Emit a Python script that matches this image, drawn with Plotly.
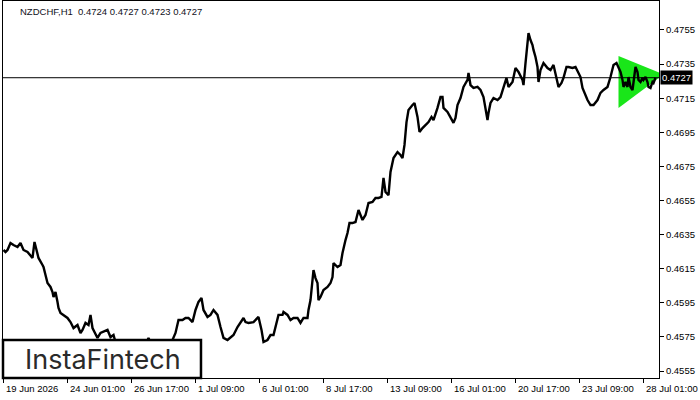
import plotly.graph_objects as go

# ---- data (hourly bar index, close price) ----
bar_idx = [0, 2, 4, 7, 10, 14, 17, 20, 24, 27, 29, 31, 33, 35, 39, 40, 42, 44, 47, 49,
           50, 52, 54, 55, 57, 60, 64, 67, 69, 70, 74, 77, 79, 82, 85, 87, 89, 92, 94, 97,
           100, 104, 107, 110, 112, 117, 122, 127, 132, 137, 142, 145, 149, 153, 157, 162, 167, 169, 172, 175,
           179, 182, 185, 189, 192, 195, 198, 200, 204, 207, 210, 214, 217, 220, 224, 227, 230, 234, 237, 240,
           242, 245, 250, 255, 258, 260, 264, 267, 270, 272, 275, 279, 280, 284, 287, 290, 294, 297, 300, 304,
           305, 307, 309, 310, 312, 314, 315, 317, 320, 324, 327, 329, 330, 334, 337, 339, 342, 344, 346, 349,
           352, 355, 359, 362, 365, 369, 372, 375, 378, 380, 382, 385, 387, 390, 394, 397, 399, 401, 403, 405,
           409, 411, 414, 416, 419, 422, 425, 428, 430, 434, 437, 439, 440, 444, 447, 450, 452, 454, 457, 460,
           464, 465, 467, 470, 474, 477, 480, 482, 484, 485, 487, 490, 494, 497, 500, 503, 505, 509, 512, 515,
           519, 520, 522, 524, 525, 527, 529, 530, 532, 534, 535, 537, 540, 544, 547, 550, 553, 555, 558, 560,
           563, 565, 569, 572, 575, 577, 579, 581, 584, 587, 590, 594, 597, 600, 604, 607, 609, 610, 613, 615,
           617, 619, 620, 622, 624, 625, 627, 629, 630, 632, 634, 635, 637, 639, 640, 642, 644, 645, 647, 649,
           650, 652]
close = [0.46260, 0.46248, 0.46260, 0.46301, 0.46289, 0.46277, 0.46301, 0.46260, 0.46248, 0.46230,
         0.46213, 0.46307, 0.46260, 0.46213, 0.46172, 0.46160, 0.46113, 0.46066, 0.46043, 0.46013,
         0.45984, 0.46013, 0.45955, 0.45920, 0.45890, 0.45879, 0.45861, 0.45837, 0.45808, 0.45802,
         0.45820, 0.45773, 0.45791, 0.45832, 0.45820, 0.45879, 0.45802, 0.45761, 0.45744, 0.45773,
         0.45779, 0.45791, 0.45749, 0.45761, 0.45720, 0.45685, 0.45662, 0.45644, 0.45662, 0.45673,
         0.45703, 0.45744, 0.45685, 0.45662, 0.45644, 0.45673, 0.45714, 0.45732, 0.45773, 0.45849,
         0.45849, 0.45861, 0.45861, 0.45837, 0.45908, 0.45955, 0.45978, 0.45908, 0.45867, 0.45879,
         0.45908, 0.45879, 0.45808, 0.45744, 0.45732, 0.45744, 0.45761, 0.45808, 0.45832, 0.45861,
         0.45837, 0.45832, 0.45837, 0.45867, 0.45791, 0.45720, 0.45732, 0.45761, 0.45761, 0.45808,
         0.45879, 0.45879, 0.45896, 0.45879, 0.45849, 0.45861, 0.45861, 0.45832, 0.45861, 0.45861,
         0.45908, 0.45966, 0.46066, 0.46142, 0.46095, 0.46066, 0.45966, 0.45984, 0.46025, 0.46043,
         0.46066, 0.46101, 0.46183, 0.46160, 0.46172, 0.46242, 0.46318, 0.46359, 0.46418, 0.46418,
         0.46424, 0.46494, 0.46436, 0.46465, 0.46535, 0.46541, 0.46565, 0.46565, 0.46571, 0.46682,
         0.46600, 0.46582, 0.46717, 0.46799, 0.46834, 0.46817, 0.46799, 0.46876, 0.47010, 0.47081,
         0.47110, 0.47122, 0.47040, 0.46952, 0.46975, 0.46993, 0.47010, 0.47040, 0.47022, 0.47093,
         0.47157, 0.47157, 0.47093, 0.47069, 0.47040, 0.47005, 0.47034, 0.47110, 0.47151, 0.47216,
         0.47257, 0.47298, 0.47227, 0.47210, 0.47216, 0.47198, 0.47157, 0.47093, 0.47022, 0.47063,
         0.47122, 0.47151, 0.47139, 0.47157, 0.47216, 0.47269, 0.47216, 0.47245, 0.47327, 0.47304,
         0.47257, 0.47227, 0.47356, 0.47491, 0.47532, 0.47491, 0.47462, 0.47433, 0.47392, 0.47333,
         0.47245, 0.47315, 0.47356, 0.47327, 0.47315, 0.47345, 0.47269, 0.47216, 0.47239, 0.47269,
         0.47333, 0.47333, 0.47327, 0.47333, 0.47298, 0.47274, 0.47210, 0.47181, 0.47139, 0.47110,
         0.47110, 0.47139, 0.47181, 0.47198, 0.47216, 0.47274, 0.47327, 0.47345, 0.47356, 0.47327,
         0.47304, 0.47257, 0.47216, 0.47245, 0.47216, 0.47274, 0.47216, 0.47198, 0.47239, 0.47333,
         0.47304, 0.47257, 0.47245, 0.47269, 0.47257, 0.47274, 0.47245, 0.47216, 0.47210, 0.47245,
         0.47239, 0.47270]

# x-axis labels (bar index -> label)
xtick_idx = [0, 64, 128, 192, 256, 320, 384, 448, 512, 576, 640]
xtick_text = ["19 Jun 2026", "24 Jun 01:00", "26 Jun 17:00", "1 Jul 09:00", "6 Jul 01:00",
              "8 Jul 17:00", "13 Jul 09:00", "16 Jul 01:00", "20 Jul 17:00", "23 Jul 09:00",
              "28 Jul 01:00"]
ytick_vals = [0.4555, 0.4575, 0.4595, 0.4615, 0.4635, 0.4655, 0.4675, 0.4695, 0.4715, 0.4735, 0.4755]

# triangle pattern (bar index, price)
tri_idx = [615, 615, 660]
tri_price = [0.47398, 0.47093, 0.47290]

current_price = 0.4727
title_text = "NZDCHF,H1  0.4724 0.4727 0.4723 0.4727"

FONT = "Liberation Sans"

fig = go.Figure()
fig.add_trace(go.Scatter(x=tri_idx, y=tri_price, fill="toself", fillcolor="#19e619",
                         mode="lines", line=dict(width=0, color="#19e619"), hoverinfo="skip"))
fig.add_trace(go.Scatter(x=bar_idx, y=close, mode="lines",
                         line=dict(color="black", width=2.4), hoverinfo="skip"))

fig.add_shape(type="line", xref="paper", x0=0, x1=1, yref="y", y0=current_price, y1=current_price,
              line=dict(color="black", width=1))

# logo box
fig.add_shape(type="rect", xref="paper", yref="paper", x0=0, x1=0.3018, y0=0, y1=0.1008,
              line=dict(color="black", width=2.5), fillcolor="white", layer="above")
fig.add_annotation(text="InstaFintech", xref="paper", yref="paper", x=0.153, y=0.048,
                   xanchor="center", yanchor="middle", showarrow=False,
                   font=dict(family="Inter", size=27, color="#2a2a2a"))

# title
fig.add_annotation(text=title_text, xref="paper", yref="paper", x=0.0229, y=0.971,
                   xanchor="left", yanchor="middle", showarrow=False,
                   font=dict(family=FONT, size=9.5, color="#10101a"))

# current price label
fig.add_annotation(text="%.4f" % current_price, xref="paper", yref="y", x=1, y=current_price,
                   xanchor="left", yanchor="middle", showarrow=False, xshift=1,
                   bgcolor="black", borderpad=1,
                   font=dict(family=FONT, size=9.5, color="white"))

# x labels, left aligned at ticks
for xi, t in zip(xtick_idx, xtick_text):
    fig.add_annotation(text=t, xref="x", yref="paper", x=xi, y=0, xanchor="left", yanchor="top",
                       yshift=-3, showarrow=False, font=dict(family=FONT, size=9.5, color="black"))

fig.update_layout(
    width=700, height=400,
    margin=dict(l=3, r=41, t=1, b=22),
    plot_bgcolor="white", paper_bgcolor="white",
    showlegend=False,
    xaxis=dict(range=[-0.5, 655.5], showgrid=False, zeroline=False, showline=True, mirror=True,
               linecolor="black", linewidth=1, ticks="outside", ticklen=4, tickcolor="black",
               tickvals=xtick_idx, showticklabels=False, fixedrange=True),
    yaxis=dict(range=[0.45509, 0.47720], side="right", showgrid=False, zeroline=False,
               showline=True, mirror=True, linecolor="black", linewidth=1,
               ticks="outside", ticklen=4, tickcolor="black",
               tickvals=ytick_vals, ticktext=["%.4f" % v for v in ytick_vals],
               tickfont=dict(family=FONT, size=9.5, color="black"), fixedrange=True),
)

fig.write_html("out.html", config={"displayModeBar": False},
               post_script="document.body.style.margin='0';document.body.style.overflow='hidden';")
